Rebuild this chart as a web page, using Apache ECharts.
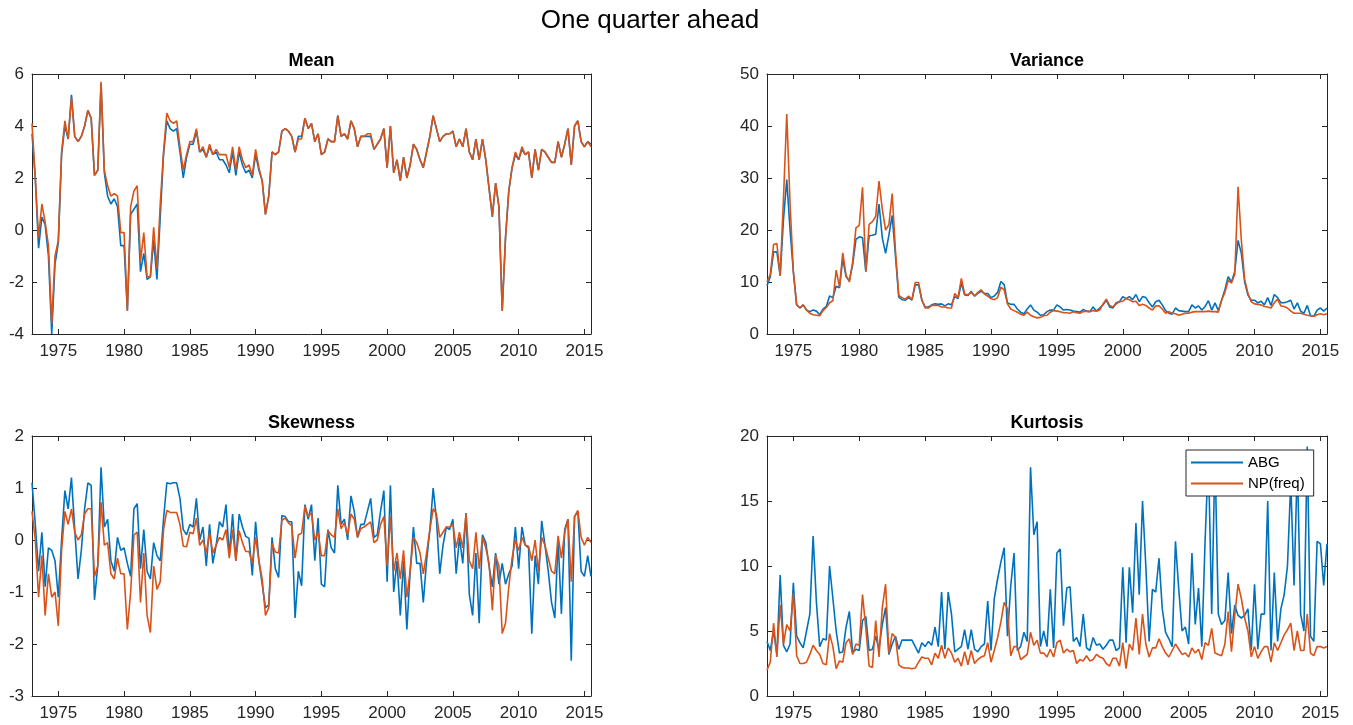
<!DOCTYPE html>
<html>
<head>
<meta charset="utf-8">
<title>One quarter ahead</title>
<script src="https://cdn.jsdelivr.net/npm/echarts@6/dist/echarts.min.js"></script>
<style>
  html, body { margin: 0; padding: 0; background: #fff; }
  #chart-container { width: 1353px; height: 725px; }
</style>
</head>
<body>
<div id="chart-container"></div>
<script>
// quarterly dates, 1973Q1 .. 2015Q3
var quarters = [];
for (var q = 0; q < 171; q++) quarters.push(1973 + q / 4);

var yearTicks = [1975, 1980, 1985, 1990, 1995, 2000, 2005, 2010, 2015];
var panelNames = ['Mean', 'Variance', 'Skewness', 'Kurtosis'];
var seriesNames = ['ABG', 'NP(freq)'];

var meanABG = [
  3.7, 2.0, -0.7, 0.5, 0.2, -1.0, -4.0, -1.3, -0.5, 2.9,
  4.0, 3.5, 5.2, 3.6, 3.4, 3.6, 4.0, 4.6, 4.3, 2.1,
  2.3, 5.6, 2.2, 1.3, 1.0, 1.2, 0.9, -0.6, -0.6, -3.1,
  0.6, 0.8, 1.0, -1.6, -0.9, -1.9, -1.8, -0.4, -1.9, 0.5,
  2.9, 4.2, 3.9, 3.8, 3.9, 3.0, 2.0, 2.8, 3.3, 3.3,
  3.8, 3.0, 3.1, 2.8, 3.2, 2.9, 3.0, 2.7, 2.7, 2.5,
  2.2, 3.0, 2.1, 3.0, 2.5, 2.2, 2.3, 2.0, 2.9, 2.3,
  1.9, 0.6, 1.3, 3.0, 2.9, 3.0, 3.8, 3.9, 3.8, 3.6,
  3.0, 3.6, 3.6, 4.3, 3.9, 4.1, 3.4, 3.7, 2.9, 3.0,
  3.5, 3.4, 3.4, 4.4, 3.6, 3.7, 3.5, 4.2, 3.9, 3.2,
  3.6, 3.6, 3.6, 3.6, 3.1, 3.3, 3.5, 3.9, 2.4, 4.0,
  2.2, 2.7, 1.9, 2.8, 2.0, 2.5, 3.3, 3.1, 2.7, 2.4,
  3.0, 3.6, 4.4, 3.9, 3.4, 3.6, 3.7, 3.7, 3.8, 3.2,
  3.5, 3.2, 3.9, 3.0, 2.7, 3.5, 2.7, 3.5, 2.7, 1.6,
  0.5, 1.8, 0.9, -3.1, -0.3, 1.5, 2.4, 2.9, 2.7, 3.1,
  2.9, 3.0, 2.0, 3.1, 2.3, 3.1, 3.0, 2.8, 2.6, 2.6,
  3.4, 2.8, 3.3, 3.9, 2.5, 4.0, 4.2, 3.4, 3.2, 3.4,
  3.3
];
var meanNP = [
  4.1, 2.0, -0.3, 1.0, 0.3, -0.6, -3.6, -1.0, -0.4, 3.0,
  4.2, 3.5, 5.1, 3.6, 3.4, 3.6, 4.0, 4.6, 4.3, 2.1,
  2.3, 5.7, 2.3, 1.7, 1.3, 1.4, 1.3, -0.1, -0.1, -3.1,
  0.9, 1.5, 1.7, -1.2, -0.1, -1.8, -1.8, 0.1, -1.5, 1.0,
  3.0, 4.5, 4.2, 4.1, 4.2, 3.2, 2.3, 2.9, 3.4, 3.4,
  3.9, 3.0, 3.2, 2.8, 3.3, 2.9, 3.1, 2.9, 2.9, 2.9,
  2.4, 3.2, 2.3, 3.2, 2.7, 2.4, 2.5, 2.1, 3.1, 2.4,
  1.9, 0.6, 1.3, 3.0, 2.9, 3.0, 3.8, 3.9, 3.8, 3.6,
  3.0, 3.5, 3.5, 4.3, 3.9, 4.1, 3.4, 3.7, 2.9, 3.0,
  3.5, 3.4, 3.4, 4.4, 3.6, 3.7, 3.5, 4.2, 3.9, 3.2,
  3.6, 3.6, 3.7, 3.7, 3.1, 3.3, 3.5, 3.9, 2.4, 4.0,
  2.2, 2.7, 1.9, 2.8, 2.0, 2.5, 3.3, 3.1, 2.7, 2.4,
  3.0, 3.6, 4.4, 3.9, 3.4, 3.6, 3.7, 3.7, 3.8, 3.2,
  3.5, 3.2, 3.9, 3.0, 2.7, 3.5, 2.7, 3.5, 2.7, 1.6,
  0.55, 1.8, 0.9, -3.1, -0.3, 1.5, 2.4, 3.0, 2.7, 3.2,
  2.9, 3.0, 2.0, 3.1, 2.3, 3.1, 3.0, 2.8, 2.6, 2.6,
  3.4, 2.8, 3.3, 3.9, 2.5, 4.0, 4.2, 3.4, 3.2, 3.4,
  3.2
];

var varABG = [
  9.3, 11.0, 15.8, 15.8, 11.2, 22.0, 29.7, 20.0, 12.0, 5.6,
  5.0, 5.6, 4.6, 4.3, 4.6, 4.4, 3.7, 4.8, 5.3, 7.3,
  7.0, 9.2, 8.9, 14.5, 11.0, 10.3, 13.3, 18.2, 18.7, 18.5,
  12.0, 18.9, 19.0, 19.2, 25.0, 18.5, 15.5, 19.0, 22.8, 15.0,
  7.1, 6.6, 6.5, 7.0, 6.5, 9.4, 9.5, 6.5, 5.2, 5.2,
  5.6, 5.8, 5.7, 5.8, 5.4, 5.8, 5.6, 7.2, 6.8, 9.8,
  7.5, 7.4, 8.2, 7.3, 7.8, 8.2, 7.8, 7.8, 7.0, 7.3,
  8.0, 10.1, 9.5, 6.0, 5.7, 5.7, 4.8, 4.2, 3.9, 4.8,
  5.6, 4.6, 4.2, 3.6, 3.7, 4.3, 4.6, 4.6, 5.6, 5.2,
  4.6, 4.7, 4.6, 4.4, 4.3, 4.2, 4.7, 4.4, 4.3, 5.2,
  4.4, 5.0, 5.6, 6.5, 5.2, 5.0, 6.0, 6.2, 7.2, 6.8,
  7.2, 6.6, 7.6, 6.2, 7.2, 7.0, 6.0, 5.2, 6.2, 6.5,
  5.6, 4.5, 4.0, 3.8, 5.0, 4.5, 4.4, 4.3, 4.3, 5.6,
  5.0, 5.4, 4.6, 5.3, 6.4, 4.6, 6.0, 4.5, 6.5, 8.5,
  11.0, 10.0, 12.0, 18.0, 15.5, 10.0, 7.5, 6.5, 6.5, 6.0,
  6.3, 5.6, 7.0, 5.5, 7.6, 7.0, 6.0, 6.0, 6.2, 6.5,
  4.8, 6.0, 4.4, 4.0, 5.5, 3.5, 3.4, 4.6, 5.0, 4.4,
  5.0
];
var varNP = [
  10.0, 11.5, 17.2, 17.4, 11.2, 26.0, 42.3, 25.0, 12.0, 5.6,
  5.0, 5.6, 4.6, 4.0, 3.7, 3.6, 3.5, 4.5, 5.1, 6.0,
  6.4, 12.3, 9.0, 15.6, 11.3, 10.0, 13.8, 20.4, 20.9, 28.2,
  12.0, 21.1, 21.6, 22.6, 29.4, 24.0, 20.0, 21.0, 27.0, 16.0,
  7.4, 7.0, 6.7, 7.3, 6.6, 9.9, 9.9, 6.6, 5.0, 5.0,
  5.5, 5.5, 5.5, 5.2, 5.2, 5.0, 5.0, 7.8, 7.0, 10.7,
  7.7, 7.5, 8.0, 7.3, 8.0, 8.5, 7.7, 7.3, 6.8, 6.6,
  7.0, 9.0, 8.5, 5.8, 4.8, 4.5, 4.2, 3.8, 3.6, 4.2,
  3.6, 3.3, 3.1, 3.2, 3.5, 3.6, 4.2, 4.5, 4.4, 4.3,
  4.1, 4.1, 4.0, 4.3, 4.1, 4.0, 4.3, 4.4, 4.3, 4.5,
  4.4, 4.6, 5.8, 6.7, 5.5, 5.2, 5.8, 6.2, 6.3, 6.8,
  6.6, 6.2, 6.3, 5.5, 5.7, 5.5, 5.0, 4.6, 5.4, 5.4,
  4.8, 4.0, 4.3, 4.0, 3.9, 3.6, 3.8, 4.0, 4.0, 4.2,
  4.3, 4.3, 4.3, 4.3, 4.4, 4.3, 4.3, 4.2, 6.5, 8.0,
  10.3, 9.8, 11.5, 28.3, 18.0, 10.5, 7.8, 6.2, 5.8, 5.7,
  5.6, 5.3, 5.2, 5.0, 6.0, 6.7, 5.4, 5.3, 5.0, 4.4,
  4.0, 4.0, 4.0, 3.8, 3.6, 3.5, 3.4, 3.7, 3.9, 3.7,
  3.9
];

var skewABG = [
  1.1, 0.3, -0.6, 0.15, -0.9, -0.15, -0.2, -0.4, -1.1, 0.0,
  0.95, 0.6, 1.2, 0.2, -0.75, -0.2, 0.6, 1.1, 1.05, -1.15,
  -0.5, 1.4, 0.25, 0.4, -0.4, -0.6, 0.05, -0.2, -0.15, -0.45,
  -0.7, 0.6, 0.7, -0.55, 0.2, -0.6, -0.75, -0.05, -0.3, -0.4,
  0.4, 1.1, 1.08, 1.1, 1.1, 0.8, 0.2, 0.1, 0.3, 0.25,
  0.8, 0.0, 0.25, -0.5, 0.3, -0.45, -0.1, 0.35, 0.25, 0.68,
  -0.3, 0.5, -0.4, 0.5, 0.25, 0.07, 0.03, -0.68, 0.35, -0.4,
  -0.85, -1.3, -1.25, 0.05, -0.55, -0.72, 0.47, 0.45, 0.35, 0.35,
  -1.5, -0.6, -0.88, 0.68, 0.4, 0.68, -0.4, 0.42, -0.85, -0.9,
  0.2, -0.15, -0.25, 1.05, 0.3, 0.4, 0.0, 0.85, 0.55, 0.05,
  0.3, 0.3, 0.55, 0.8, 0.05, 0.1, 0.55, 0.95, -0.8, 1.05,
  -1.0, -0.4, -1.45, -0.4, -1.72, -0.6, 0.25, -0.45, -0.45, -1.2,
  -0.4, 0.2, 1.0, 0.4, -0.65, -0.1, 0.25, 0.2, 0.4, -0.65,
  0.05, -0.45, 0.52, -1.05, -1.45, -0.25, -1.6, 0.1, -0.05, -0.5,
  -0.9, -0.25, -0.85, -0.45, -0.85, -0.65, -0.5, 0.25, -0.55, 0.25,
  -0.1, -0.15, -1.8, -0.3, -0.85, 0.37, -0.1, -0.6, -1.2, -1.5,
  0.0, -1.42, 0.2, 0.4, -2.32, 0.45, 0.55, -0.6, -0.7, -0.3,
  -0.7
];
var skewNP = [
  0.55, 0.0, -1.1, -0.3, -1.45, -0.65, -1.1, -1.0, -1.65, -0.2,
  0.55, 0.3, 0.6, 0.15, 0.0, 0.1, 0.5, 0.6, 0.6, -0.7,
  -0.5, 0.73, -0.1, -0.05, -0.65, -0.75, -0.35, -0.65, -0.65, -1.72,
  -1.0, 0.1, 0.15, -1.2, -0.25, -1.45, -1.78, -0.5, -0.95, -0.8,
  0.2, 0.57, 0.53, 0.53, 0.53, 0.3, -0.12, -0.13, 0.15, 0.12,
  0.42, -0.1, 0.0, -0.25, 0.13, -0.25, -0.1, 0.05, 0.0, 0.2,
  -0.35, 0.2, -0.4, 0.18, -0.05, -0.22, -0.22, -0.45, 0.05, -0.4,
  -0.75, -1.45, -1.3, -0.07, -0.23, -0.25, 0.38, 0.42, 0.33, 0.27,
  -0.35, 0.1, 0.13, 0.65, 0.45, 0.52, 0.0, 0.15, -0.3, -0.3,
  0.18, 0.1, 0.05, 0.6, 0.22, 0.33, 0.1, 0.5, 0.4, 0.05,
  0.22, 0.25, 0.3, 0.35, -0.05, 0.0, 0.3, 0.45, -0.5, 0.45,
  -0.6, -0.25, -0.75, -0.2, -1.1, -0.6, 0.05, -0.05, -0.25, -0.65,
  -0.25, 0.2, 0.6, 0.5, 0.05, 0.15, 0.25, 0.25, 0.3, -0.15,
  0.15, -0.15, 0.5, -0.4, -0.55, 0.15, -0.55, 0.05, -0.15, -0.45,
  -1.35, -0.3, -0.5, -1.8, -1.6, -0.9, -0.35, 0.0, -0.2, 0.05,
  -0.1, -0.12, -0.4, 0.0, -0.6, 0.05, -0.1, -0.35, -0.6, -0.65,
  0.08, -0.35, 0.15, 0.4, -0.8, 0.45, 0.57, 0.05, -0.1, 0.05,
  -0.05
];

var kurtABG = [
  4.2, 3.5, 5.0, 3.2, 9.3, 3.9, 3.4, 4.0, 8.7, 4.6,
  4.1, 3.7, 5.0, 6.3, 12.3, 7.2, 3.8, 4.4, 4.3, 10.0,
  7.5, 5.0, 3.3, 3.4, 5.3, 6.5, 3.3, 3.6, 3.5, 5.8,
  6.1, 3.5, 3.6, 4.6, 3.6, 5.5, 6.8, 3.2, 4.0, 4.6,
  3.6, 4.3, 4.3, 4.3, 4.3, 3.8, 3.3, 4.1, 3.8, 4.2,
  3.9, 5.3, 3.8, 8.0, 3.6, 8.0, 6.3, 3.4, 3.6, 3.8,
  5.1, 3.6, 5.1, 3.6, 3.4, 3.8, 4.0, 7.3, 3.5, 7.5,
  9.0, 10.3, 11.4, 4.6, 8.5, 11.0, 3.5, 3.8, 4.9, 4.2,
  17.6, 12.4, 13.4, 3.8, 5.0, 3.8, 8.2, 3.7, 11.0, 11.3,
  5.4, 8.3, 8.4, 4.2, 4.5, 3.8, 6.3, 3.7, 3.5, 4.5,
  3.9, 4.0, 3.6, 3.9, 4.3, 4.3, 3.5, 3.7, 9.9, 4.1,
  9.9, 6.4, 13.3, 7.8, 15.0, 10.0, 4.2, 8.2, 8.0, 10.6,
  6.7, 4.9, 4.4, 3.8, 11.9, 8.2, 5.0, 5.3, 4.0, 11.0,
  5.5, 8.3, 3.8, 12.0, 18.5, 6.3, 18.6, 6.3, 5.5, 5.8,
  9.5, 4.8, 7.0, 6.2, 6.0, 6.2, 6.7, 3.5, 8.6, 3.6,
  6.3, 6.3, 15.0, 3.5, 9.5, 4.2, 6.7, 7.8, 10.0, 16.5,
  8.5, 18.0, 6.3, 5.0, 19.2, 4.6, 4.2, 11.9, 11.7, 8.5,
  11.7
];
var kurtNP = [
  2.0, 2.6, 5.6, 3.0, 7.0, 4.0, 5.5, 5.0, 7.9, 3.1,
  2.5, 2.5, 2.6, 3.2, 3.9, 3.5, 3.2, 2.5, 2.4, 4.8,
  3.8, 2.1, 2.7, 2.6, 4.1, 4.4, 3.2, 4.0, 3.9, 7.8,
  5.2, 2.3, 2.2, 5.8, 3.0, 6.8, 8.6, 3.3, 4.8, 4.5,
  2.4, 2.2, 2.15, 2.15, 2.1, 2.15, 2.6, 3.0, 2.9, 2.9,
  2.4, 3.3, 2.9, 3.9, 2.9, 3.7, 3.3, 2.6, 2.9, 2.3,
  3.4, 2.4, 3.5, 2.5, 2.8, 3.0, 3.1, 4.1, 2.6, 3.5,
  4.5, 5.7, 7.2, 6.7, 3.1, 3.8, 3.8, 2.8, 3.0, 3.2,
  4.9, 3.9, 4.3, 3.3, 3.3, 3.0, 3.6, 3.0, 4.1, 4.3,
  3.3, 3.6, 3.4, 3.5, 2.5, 2.8, 2.7, 3.1, 2.7, 2.8,
  3.2, 3.0, 2.9, 2.5, 2.3, 2.9, 2.9, 2.3, 4.1, 2.1,
  4.0, 3.5, 6.0, 3.2, 6.3, 4.0, 3.0, 3.7, 3.7, 4.4,
  3.8, 3.3, 3.0, 3.5, 4.0, 3.6, 3.2, 3.3, 3.0, 3.7,
  3.3, 3.6, 2.8, 4.1, 3.9, 5.2, 3.3, 3.2, 3.1, 4.0,
  6.5, 3.4, 6.2, 8.6, 7.5, 6.0, 5.0, 3.0, 3.8, 2.9,
  3.4, 3.8, 3.8, 2.6, 4.1, 3.5, 4.1, 4.7, 5.1, 5.6,
  3.5, 5.0, 3.5, 3.5, 6.3, 3.3, 3.1, 3.8, 3.8, 3.7,
  3.8
];

var panelData = [
  [meanABG, meanNP],
  [varABG, varNP],
  [skewABG, skewNP],
  [kurtABG, kurtNP]
];
var yRanges = [[-4, 6, 2], [0, 50, 10], [-3, 2, 1], [0, 20, 5]];

var colors = ['#0072BD', '#D95319'];
var axisColor = '#262626';
var font = 'Helvetica, "Liberation Sans", Arial, sans-serif';

var grids = [
  { left: 32, top: 74, width: 559, height: 260 },
  { left: 767, top: 74, width: 560, height: 260 },
  { left: 32, top: 436, width: 559, height: 260 },
  { left: 767, top: 436, width: 560, height: 260 }
];

var xAxes = [], yAxes = [], series = [];
var titles = [{
  text: 'One quarter ahead',
  left: 650, top: 8, textAlign: 'center', padding: 0,
  textStyle: { fontFamily: font, fontSize: 26, fontWeight: 'normal', color: '#000' }
}];

grids.forEach(function (g, i) {
  var line = { show: true, onZero: false, lineStyle: { color: axisColor, width: 1 } };
  var tick = { show: true, inside: true, length: 5, lineStyle: { color: axisColor } };
  // bottom + top x axes
  xAxes.push({
    type: 'value', gridIndex: i, position: 'bottom', min: 1973, max: 2015.5,
    axisLine: line, splitLine: { show: false },
    axisTick: Object.assign({ customValues: yearTicks }, tick),
    axisLabel: {
      customValues: yearTicks, margin: 9, color: axisColor, fontSize: 17, fontFamily: font,
      formatter: function (v) { return String(v); }
    }
  });
  xAxes.push({
    type: 'value', gridIndex: i, position: 'top', min: 1973, max: 2015.5,
    axisLine: line, splitLine: { show: false },
    axisTick: Object.assign({ customValues: yearTicks }, tick),
    axisLabel: { show: false }
  });
  var r = yRanges[i];
  yAxes.push({
    type: 'value', gridIndex: i, position: 'left', min: r[0], max: r[1], interval: r[2],
    axisLine: line, splitLine: { show: false }, axisTick: tick,
    axisLabel: { margin: 8, color: axisColor, fontSize: 17, fontFamily: font }
  });
  yAxes.push({
    type: 'value', gridIndex: i, position: 'right', min: r[0], max: r[1], interval: r[2],
    axisLine: line, splitLine: { show: false }, axisTick: tick,
    axisLabel: { show: false }
  });
  titles.push({
    text: panelNames[i],
    left: g.left + g.width / 2, top: g.top - 22, textAlign: 'center', padding: 0,
    textStyle: { fontFamily: font, fontSize: 18, fontWeight: 'bold', color: '#000' }
  });
  panelData[i].forEach(function (vals, j) {
    series.push({
      name: seriesNames[j],
      type: 'line',
      xAxisIndex: i * 2,
      yAxisIndex: i * 2,
      symbol: 'none',
      z: 2 + j,
      lineStyle: { color: colors[j], width: 1.6 },
      itemStyle: { color: colors[j] },
      data: vals.map(function (v, k) { return [quarters[k], v]; })
    });
  });
});

var dom = document.getElementById('chart-container');
var myChart = echarts.init(dom, null, { renderer: 'canvas' });

var option = {
  animation: false,
  backgroundColor: '#fff',
  title: titles,
  grid: grids,
  xAxis: xAxes,
  yAxis: yAxes,
  legend: {
    data: seriesNames,
    orient: 'vertical',
    left: 1186, top: 450,
    padding: [5, 9, 5, 5],
    icon: 'rect',
    itemWidth: 52, itemHeight: 2, itemGap: 6,
    backgroundColor: '#fff',
    borderColor: axisColor, borderWidth: 1,
    textStyle: { fontFamily: font, fontSize: 15, lineHeight: 15, color: '#000' }
  },
  series: series
};

myChart.setOption(option);
window.addEventListener('resize', myChart.resize);
</script>
</body>
</html>
